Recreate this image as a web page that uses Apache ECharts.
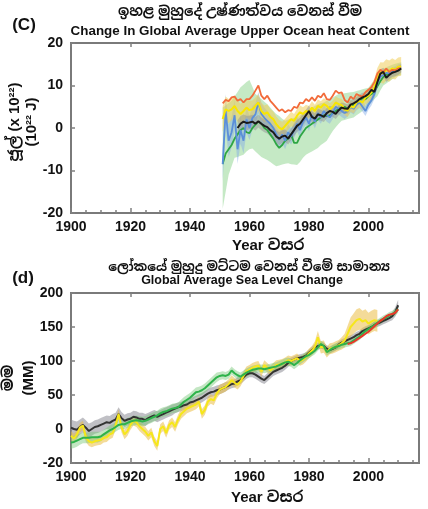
<!DOCTYPE html>
<html>
<head>
<meta charset="utf-8">
<script src="https://cdn.jsdelivr.net/npm/echarts@6/dist/echarts.min.js"></script>
<style>
  html, body { margin: 0; padding: 0; background: #fff; }
  #chart { width: 428px; height: 509px; }
</style>
</head>
<body>
<div id="chart"></div>
<script>
// ---------- (c) upper ocean heat content, 10^22 J, yearly 1951-2011 ----------
const ohcStartYear = 1951;
const ohcOrange = [5.8,6.6,6.3,7.2,7.4,6.4,6.8,6.0,6.8,6.8, 7.6,8.8,10.0,7.6,6.8,7.6,6.4,5.6,4.8,4.0,
  4.4,3.7,4.2,4.0,5.0,4.7,6.0,5.8,6.8,6.3, 7.2,6.4,7.6,7.2,8.2,6.8,6.6,7.6,8.8,8.2,
  8.4,6.6,6.0,7.4,6.8,8.0,7.6,7.4,8.4,9.0, 9.6,10.8,12.8,13.7,13.2,14.0,13.2,13.7,13.6,14.0,14.0];
const ohcYellow = [2.1,4.4,4.0,4.4,5.2,4.0,3.3,4.0,4.8,4.2, 4.4,5.2,6.0,4.0,3.3,3.7,2.6,2.1,0.9,0.1,
  -0.3,0.5,1.3,2.1,1.7,2.9,3.7,3.3,4.0,3.7, 4.8,4.0,5.2,4.8,5.6,5.2,4.4,5.0,6.0,5.6,
  5.4,4.4,4.0,5.2,4.8,6.0,6.4,6.0,7.2,7.6, 8.4,9.6,11.9,13.1,12.9,13.7,13.4,14.0,13.7,14.4,14.5];
const ohcYellowErr = [3,3,2.8,2.6,2.5,2.5,2.4,2.3,2.2,2.2, 2.1,2,2,2,2,1.9,1.9,1.8,1.8,1.8,
  1.8,1.7,1.7,1.7,1.6,1.6,1.6,1.6,1.5,1.5, 1.5,1.5,1.5,1.5,1.4,1.4,1.4,1.4,1.4,1.4,
  1.4,1.4,1.4,1.4,1.4,1.5,1.5,1.5,1.6,1.6, 1.8,2,2.2,2.4,2.5,2.5,2.5,2.4,2.3,2.2,2.2];
const ohcBlue = [-8.5,4.0,-3.0,-1.0,3.0,-5.0,-0.5,-3.0,2.0,0.0, 2.4,3.2,6.0,3.3,2.4,1.7,1.0,0.0,-1.5,-2.8,
  -1.5,-3.0,-1.0,-2.0,-0.5,1.0,-0.5,1.5,2.5,1.0, 3.0,1.5,3.5,2.5,4.0,3.0,2.5,3.5,5.0,4.5,
  4.0,3.5,4.0,5.0,4.5,5.5,6.0,5.0,4.0,5.5, 6.5,8.0,10.5,12.0,12.5,13.0,12.8,13.3,13.5,14.0,14.2];
const ohcBlueErr = [4,4,3.8,3.6,3.5,3.4,3.2,3,3,2.8, 2.8,2.6,2.5,2.5,2.4,2.3,2.2,2.2,2.1,2,
  2,2,1.9,1.9,1.8,1.8,1.8,1.7,1.7,1.7, 1.6,1.6,1.6,1.5,1.5,1.5,1.5,1.4,1.4,1.4,
  1.4,1.4,1.3,1.3,1.3,1.3,1.3,1.2,1.2,1.2, 1.2,1.2,1.1,1.1,1.1,1,1,1,1,1,1];
const ohcGreen = [-8.5,-6.0,-5.0,-4.0,-2.5,-1.5,-0.5,0.0,-1.0,-1.2, 0.0,0.8,1.5,1.0,0.0,-0.5,-1.5,-2.5,-3.8,-4.7,
  -4.0,-3.0,-2.5,-1.5,-3.5,-3.5,-2.0,-1.0,0.0,0.5, 1.0,1.5,2.0,2.5,3.0,2.8,3.0,3.5,4.0,4.5,
  4.8,5.0,4.5,5.0,5.5,6.0,6.5,7.0,6.8,7.5, 8.0,8.5,9.8,11.0,12.0,12.5,12.8,13.0,13.5,13.8,14.0];
const ohcGreenHi = [4.8,5.3,5.9,6.4,7.5,8.5,9.6,10.2,10.8,11.3, 9.7,8.0,7.4,6.8,6.2,5.6,4.8,4.0,3.3,2.8,
  2.2,1.7,2.0,2.2,2.4,2.5,3.0,3.5,4.0,4.4, 4.8,5.2,5.6,5.8,6.0,6.4,6.8,7.2,7.6,8.0,
  8.1,8.2,8.3,8.4,8.5,8.7,8.9,9.1,9.3,9.5, 10.4,11.3,12.2,13.1,14.0,14.3,14.6,14.9,15.1,15.3,15.5];
const ohcGreenLo = [-19,-15,-11,-9,-7,-6.8,-6.5,-6.3,-5.5,-5.0, -4.8,-5.5,-6.2,-6.8,-7.2,-7.5,-8.0,-8.5,-9.0,-8.8,
  -8.6,-8.4,-8.3,-8.5,-8.6,-8.7,-8.0,-7.0,-6.3,-5.9, -5.5,-5.1,-4.7,-4.0,-3.5,-3.0,-1.8,-0.7,0.2,1.0,
  1.7,1.9,2.1,2.3,2.5,3.0,3.5,4.0,4.6,5.2, 6.0,6.8,7.5,8.8,10.0,10.5,11.0,11.5,12.0,12.3,12.5];
const ohcBlack = [null,null,null,null,null,0.0,1.0,1.5,1.2,1.3, 1.5,1.0,1.6,1.0,0.5,0.2,-0.5,-1.0,-2.0,-2.5,
  -2.0,-1.8,-2.5,-1.5,-0.5,0.5,1.0,2.0,3.0,4.0, 2.6,2.2,3.2,3.0,2.6,3.5,4.0,3.8,3.3,4.2,
  4.8,4.6,4.5,5.5,5.8,6.2,6.8,7.2,7.5,8.0, 9.0,8.5,10.8,12.8,13.2,11.8,12.5,13.0,13.2,13.5,14.0];
const ohcBlackErr = [null,null,null,null,null,1.8,1.8,1.7,1.7,1.6, 1.6,1.6,1.5,1.5,1.5,1.5,1.5,1.5,1.5,1.5,
  1.5,1.5,1.4,1.4,1.4,1.4,1.4,1.4,1.3,1.3, 1.3,1.3,1.3,1.3,1.2,1.2,1.2,1.2,1.2,1.2,
  1.2,1.2,1.1,1.1,1.1,1.1,1.1,1.1,1.0,1.0, 1.0,1.0,1.0,1.0,1.0,1.0,1.0,1.0,1.0,1.0,1.0];

// ---------- (d) global mean sea level, mm, yearly 1900-2010 ----------
const slStartYear = 1900;
const slBlack = [2,0,-1,3,6,2,-3,0,3,4, 6,8,10,9,12,14,22,16,12,14,
  15,18,17,15,15,13,16,18,20,18, 20,22,24,26,28,30,32,33,35,36,
  39,40,42,44,46,49,52,54,55,57, 58,60,62,64,66,67,70,72,76,80,
  82,82,80,77,74,72,76,80,84,86, 88,90,93,97,100,102,104,105,106,108,
  112,116,120,122,123,122,118,116,118,120, 124,127,129,131,133,135,138,140,144,146,
  148,150,153,155,157,159,161,163,166,172,182];
const slBlackErr = [12,12,12,11,11,11,11,10,10,10, 10,10,10,10,10,10,10,9,9,9,
  9,9,9,9,9,9,8,8,8,8, 8,8,8,8,8,7,7,7,7,7,
  7,7,7,7,7,7,7,7,7,7, 7,7,7,6,6,6,6,6,6,6,
  6,6,6,6,6,6,6,6,6,6, 6,6,6,6,5,5,5,5,5,5,
  5,5,5,5,5,5,5,5,5,5, 5,5,5,5,5,5,5,5,5,5,
  5,5,5,5,5,5,5,5,6,7,8];
const slGreen = [-20,-19,-17,-15,-13,-13,-13,-12,-12,-12, -11,-8,-5,-2,0,3,6,7,7,9,
  11,12,13,12,11,12,14,16,18,20, 23,25,26,28,30,31,32,36,40,43,
  46,50,54,55,57,60,64,68,72,76, 78,79,78,80,86,82,79,77,80,83,
  85,87,88,89,89,88,89,90,91,92, 94,96,98,99,97,94,97,101,104,107,
  109,112,115,120,125,122,113,116,119,121, 122,124,125,126,127,130,133,136,140,144,
  147,150,153,156,159,162,164,167,169,172,176];
const slGreenErr = [9,9,9,8,8,8,8,8,8,8, 7,7,7,7,7,7,7,7,7,7,
  7,7,7,7,7,7,7,7,7,7, 7,7,7,7,7,7,7,7,7,7,
  7,7,7,7,7,7,7,7,7,7, 6,6,6,6,6,6,6,6,6,6,
  6,6,6,6,6,6,6,6,6,6, 6,6,6,6,6,6,6,6,6,6,
  5,5,5,5,5,5,5,5,5,5, 5,5,5,5,5,5,5,5,5,5,
  5,5,5,5,5,5,5,5,5,5,5];
const slYellow = [-10,-14,-8,2,5,-12,-18,-20,-18,-17, -16,-13,-12,-8,-6,5,22,2,-8,-3,
  6,12,10,4,0,-4,-10,-5,-18,-25, 0,4,-6,6,10,3,14,22,26,30,
  32,34,36,40,22,28,40,44,42,52, 58,60,62,66,72,68,65,70,78,85,
  87,90,92,93,84,94,90,86,90,94, 95,96,98,101,100,102,104,100,102,106,
  111,115,121,135,120,121,113,118,119,121, 123,126,130,140,150,155,160,162,158,160,
  155,158,160,159];
const slYellowErr = [7,7,7,7,7,7,7,7,7,7, 7,7,7,7,7,7,7,7,7,7,
  7,7,7,7,7,7,7,7,7,7, 7,7,7,7,7,7,7,7,7,7,
  7,7,7,7,7,7,7,7,7,7, 7,7,7,7,7,7,7,7,7,7,
  7,7,7,7,7,7,7,7,7,7, 7,7,7,7,7,7,7,7,7,7,
  7,7,8,9,9,9,8,8,8,8, 8,9,10,12,14,15,16,16,16,16,
  16,16,16,16];
const slRedStartYear = 1993;
const slRed = [125,126,128,131,134,137,140,143,147,151, 155,159,162,166,168,169,171,176];

// axis tick settings
const xMin = 1900, xMax = 2017, xMajor = 20, xMinor = 5;
const ohcMin = -20, ohcMax = 20, ohcStep = 10;
const slMin = -50, slMax = 200, slStep = 50;

const FONT = "'Liberation Sans', Arial, 'Noto Sans Sinhala', 'Noto Sans', sans-serif";

function linePts(start, vals) {
  const out = [];
  vals.forEach((v, i) => { if (v != null) out.push([start + i, v]); });
  return out;
}
// band rows: [year, low, high]
function bandFromErr(start, vals, err) {
  const rows = [];
  vals.forEach((v, i) => {
    if (v == null || err[i] == null) return;
    rows.push([start + i, v - err[i], v + err[i]]);
  });
  return rows;
}
function bandFromEdges(start, loVals, hiVals) {
  return loVals.map((v, i) => [start + i, v, hiVals[i]]);
}
// uncertainty envelope drawn as one filled polygon through the axis scales
function bandSeries(name, rows, color, xi, yi) {
  return {
    name, type: 'custom', xAxisIndex: xi, yAxisIndex: yi, data: rows, silent: true, z: 1,
    encode: { x: 0, y: [1, 2] },
    renderItem: function (params, api) {
      if (params.dataIndex !== 0) return null;
      const pts = [];
      for (let i = 0; i < rows.length; i++) pts.push(api.coord([rows[i][0], rows[i][2]]));
      for (let i = rows.length - 1; i >= 0; i--) pts.push(api.coord([rows[i][0], rows[i][1]]));
      return { type: 'polygon', shape: { points: pts }, style: { fill: color } };
    }
  };
}
function lineSeries(name, data, color, width, xi, yi, z) {
  return { name, type: 'line', xAxisIndex: xi, yAxisIndex: yi, data, symbol: 'none',
    lineStyle: { color, width }, z: z || 3 };
}

const AXIS_GREY = '#808080';
const noLine = { show: false, onZero: false };
function xAxes(grid) {
  return [
    { gridIndex: grid, type: 'value', min: xMin, max: xMax, interval: xMajor, position: 'bottom',
      axisLine: noLine, splitLine: { show: false },
      axisTick: { inside: true, length: 5, lineStyle: { color: AXIS_GREY, width: 1.5 } },
      axisLabel: { margin: 7, showMaxLabel: false, color: '#111', fontFamily: FONT, fontWeight: 'bold', fontSize: 14,
        formatter: v => String(v) } },
    { gridIndex: grid, type: 'value', min: xMin, max: xMax, interval: xMinor, position: 'bottom',
      axisLine: noLine, splitLine: { show: false }, axisLabel: { show: false },
      axisTick: { inside: true, length: 3, lineStyle: { color: AXIS_GREY, width: 1.5 } } },
    { gridIndex: grid, type: 'value', min: xMin, max: xMax, interval: xMajor, position: 'top',
      axisLine: noLine, splitLine: { show: false }, axisLabel: { show: false },
      axisTick: { inside: true, length: 4, lineStyle: { color: AXIS_GREY, width: 1.5 } } }
  ];
}
function yAxes(grid, min, max, step, fmt) {
  return [
    { gridIndex: grid, type: 'value', min, max, interval: step, position: 'left',
      axisLine: noLine, splitLine: { show: false },
      axisTick: { inside: true, length: 4, lineStyle: { color: AXIS_GREY, width: 1.5 } },
      axisLabel: { margin: 8, color: '#111', fontFamily: FONT, fontWeight: 'bold', fontSize: 14,
        formatter: fmt || (v => String(v)) } },
    { gridIndex: grid, type: 'value', min, max, interval: step, position: 'right',
      axisLine: noLine, splitLine: { show: false }, axisLabel: { show: false },
      axisTick: { inside: true, length: 5, lineStyle: { color: AXIS_GREY, width: 1.5 } } }
  ];
}

function txt(x, y, text, size, extra) {
  extra = extra || {};
  return { type: 'text', x, y, silent: true, rotation: extra.rotation || 0,
    style: Object.assign({ text, fill: '#111', font: 'bold ' + size + 'px ' + FONT,
      textAlign: 'center', textVerticalAlign: 'middle' }, extra.style || {}) };
}

const series = [
  // (c) uncertainty bands
  bandSeries('ohcGreenBand', bandFromEdges(ohcStartYear, ohcGreenLo, ohcGreenHi), 'rgba(150,215,150,0.55)', 0, 0),
  bandSeries('ohcBlueBand', bandFromErr(ohcStartYear, ohcBlue, ohcBlueErr), 'rgba(130,170,230,0.45)', 0, 0),
  bandSeries('ohcYellowBand', bandFromErr(ohcStartYear, ohcYellow, ohcYellowErr), 'rgba(240,205,90,0.55)', 0, 0),
  bandSeries('ohcBlackBand', bandFromErr(ohcStartYear, ohcBlack, ohcBlackErr), 'rgba(150,150,150,0.5)', 0, 0),
  // (c) lines
  lineSeries('ohcGreenLine', linePts(ohcStartYear, ohcGreen), '#2ea644', 1.8, 0, 0, 3),
  lineSeries('ohcBlueLine', linePts(ohcStartYear, ohcBlue), '#5b8fd9', 1.8, 0, 0, 3),
  lineSeries('ohcYellowLine', linePts(ohcStartYear, ohcYellow), '#f8e600', 2, 0, 0, 3),
  lineSeries('ohcOrangeLine', linePts(ohcStartYear, ohcOrange), '#f26b3a', 1.8, 0, 0, 4),
  lineSeries('ohcBlackLine', linePts(ohcStartYear, ohcBlack), '#1a1a1a', 2, 0, 0, 5),
  // (d) uncertainty bands
  bandSeries('slBlackBand', bandFromErr(slStartYear, slBlack, slBlackErr), 'rgba(140,140,150,0.55)', 3, 2),
  bandSeries('slYellowBand', bandFromErr(slStartYear, slYellow, slYellowErr), 'rgba(235,190,70,0.55)', 3, 2),
  bandSeries('slGreenBand', bandFromErr(slStartYear, slGreen, slGreenErr), 'rgba(120,200,120,0.45)', 3, 2),
  // (d) lines
  lineSeries('slBlackLine', linePts(slStartYear, slBlack), '#333333', 2, 3, 2, 3),
  lineSeries('slYellowLine', linePts(slStartYear, slYellow), '#f6e71a', 2, 3, 2, 4),
  lineSeries('slGreenLine', linePts(slStartYear, slGreen), '#2db34a', 2, 3, 2, 5),
  lineSeries('slRedLine', linePts(slRedStartYear, slRed), '#e8392a', 2, 3, 2, 6)
];

const chart = echarts.init(document.getElementById('chart'), null, { renderer: 'canvas' });
chart.setOption({
  animation: false,
  backgroundColor: '#ffffff',
  grid: [
    { left: 71, top: 43, width: 348, height: 170, show: true, borderColor: '#7a7a7a', borderWidth: 2, backgroundColor: 'transparent' },
    { left: 71, top: 293, width: 348, height: 170, show: true, borderColor: '#7a7a7a', borderWidth: 2, backgroundColor: 'transparent' }
  ],
  xAxis: [].concat(xAxes(0), xAxes(1)),
  yAxis: [].concat(
    yAxes(0, ohcMin, ohcMax, ohcStep),
    yAxes(1, slMin, slMax, slStep, v => (v === slMin ? '-20' : String(v)))
  ),
  series,
  graphic: [
    txt(24, 25, '(C)', 17),
    txt(240, 12, 'ඉහළ මුහුදේ උෂ්ණත්වය වෙනස් වීම', 14),
    txt(240, 31, 'Change In Global Average Upper Ocean heat Content', 13.4),
    txt(232, 246, 'Year වසර', 15, { style: { textAlign: 'left' } }),
    txt(23, 122, 'ජූල් (x 10²²)\n(10²² J)', 15, { rotation: Math.PI / 2, style: { lineHeight: 17 } }),
    txt(23, 278, '(d)', 17),
    txt(249, 267, 'ලෝකයේ මුහුදු මට්ටම වෙනස් වීමේ සාමාන්‍ය', 13),
    txt(242, 281, 'Global Average Sea Level Change', 12.5),
    txt(231, 498, 'Year වසර', 15, { style: { textAlign: 'left' } }),
    txt(19, 378, 'මම\n(MM)', 15, { rotation: Math.PI / 2, style: { lineHeight: 20 } })
  ]
});
</script>
</body>
</html>
